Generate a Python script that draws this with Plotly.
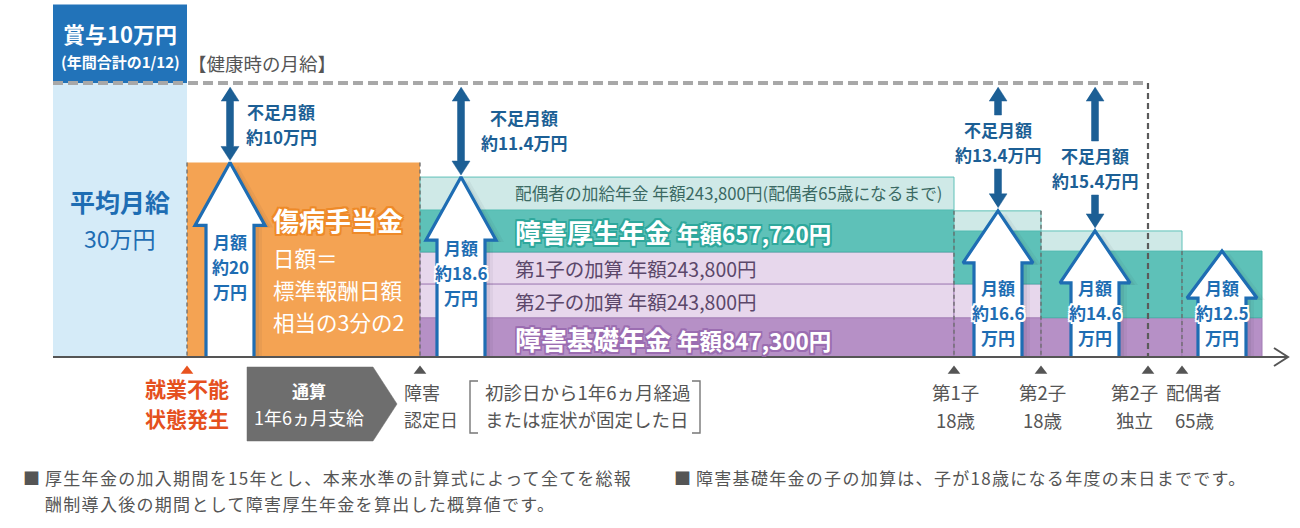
import plotly.graph_objects as go

# ---------------- data ----------------
# timeline events (schematic positions along the horizontal axis)
event_top = ["就業不能", "障害", "第1子", "第2子", "第2子", "配偶者"]
event_bottom = ["状態発生", "認定日", "18歳", "18歳", "独立", "65歳"]
event_pos = [187, 420, 954, 1041, 1148, 1182]
timeline_start = 53
timeline_end = 1262

# left blocks (万円, heights as drawn in the illustration)
avg_salary = 30.0
bonus_block = 8.6
sickness_block = 21.3

# pension stacks for the periods after 障害認定日 (万円, as drawn, bottom -> top)
period_edges = [420, 954, 1041, 1182, 1262]
basic_pension = [4.3, 4.3, 4.3, 4.3]
child2_add = [3.7, 3.7, 0.0, 0.0]
child1_add = [3.5, 0.0, 0.0, 0.0]
employee_pension = [4.6, 5.8, 7.3, 7.3]
spouse_add = [3.6, 2.2, 2.2, 0.0]

# labels
monthly_labels = ["20", "18.6", "16.6", "14.6", "12.5"]
shortfall_labels = ["10", "11.4", "13.4", "15.4"]
annual_basic = "847,300"
annual_employee = "657,720"
annual_child = "243,800"
annual_spouse = "243,800"

# ---------------- layout helpers ----------------
W, H = 1300, 528
BASE_PX = 357
TOP_PX = 83
K = (BASE_PX - TOP_PX) / avg_salary  # px per 万円
FONT = "Noto Sans CJK JP, Noto Sans, sans-serif"


def Y(py):
    return (BASE_PX - py) / K


def PY(v):
    return BASE_PX - v * K


fig = go.Figure()

# ---- left blocks ----
left_c = (timeline_start + event_pos[0]) / 2
left_w = event_pos[0] - timeline_start
fig.add_bar(x=[left_c], y=[avg_salary], base=[0], width=[left_w],
            marker=dict(color="#d5ebf8", line=dict(width=0)), hoverinfo="skip")
fig.add_bar(x=[left_c], y=[bonus_block], base=[avg_salary], width=[left_w],
            marker=dict(color="#2273b9", line=dict(width=0)), hoverinfo="skip")
fig.add_bar(x=[(event_pos[0] + event_pos[1]) / 2], y=[sickness_block], base=[0],
            width=[event_pos[1] - event_pos[0]],
            marker=dict(color="#f4a353", line=dict(width=0)), hoverinfo="skip")

# ---- pension stacks ----
centers = [(a + b) / 2 for a, b in zip(period_edges[:-1], period_edges[1:])]
widths = [b - a for a, b in zip(period_edges[:-1], period_edges[1:])]
layers = [
    (basic_pension, "#b690c6", "#a27cb5"),
    (child2_add, "#e7d7ec", "#a986ba"),
    (child1_add, "#e7d7ec", "#a986ba"),
    (employee_pension, "#5ec1b8", "#47b3a8"),
    (spouse_add, "#cfe9e7", "#5ec1b8"),
]
bottom = [0.0] * len(centers)
for vals, fill, edge in layers:
    xs, ys, bs, ws = [], [], [], []
    for i, v in enumerate(vals):
        if v > 0:
            xs.append(centers[i]); ys.append(v); bs.append(bottom[i]); ws.append(widths[i])
    fig.add_bar(x=xs, y=ys, base=bs, width=ws,
                marker=dict(color=fill, line=dict(color=edge, width=1)), hoverinfo="skip")
    bottom = [b + v for b, v in zip(bottom, vals)]
totals = bottom


# ---- dashed lines ----
def line(xs, ys, color, width, dash="solid"):
    fig.add_trace(go.Scatter(x=xs, y=ys, mode="lines", hoverinfo="skip",
                             line=dict(color=color, width=width, dash=dash)))


line([timeline_start, event_pos[4]], [avg_salary, avg_salary], "#a8a8a8", 4, "10px,5px")
line([event_pos[4], event_pos[4]], [avg_salary, 0], "#5a5a5a", 2.2, "6px,4px")
vtops = [sickness_block, sickness_block, totals[1], totals[1], totals[3]]
for xp, top in zip([event_pos[0], event_pos[1], event_pos[2], event_pos[3], event_pos[5]], vtops):
    line([xp, xp], [top, 0], "#6a6a6a", 1.3, "4px,3px")

# ---- white arrows (with a soft shadow) ----
arrow_x = [230, 461, 998, 1095, 1222]
head_len_px = [63, 63, 52, 52, 47]
tips = [sickness_block] + totals
for cx, tip, hl in zip(arrow_x, tips, head_len_px):
    sh, hh = 24, 35
    hb = tip - hl / K
    for off, alpha in [(8, 0.05), (5, 0.07)]:
        sx = [cx - sh + off, cx - sh + off, cx - hh + off, cx + off, cx + hh + off, cx + sh + off, cx + sh + off]
        sy = [0, hb - 2 / K, hb - 2 / K, tip - 3 / K, hb - 2 / K, hb - 2 / K, 0]
        fig.add_trace(go.Scatter(x=sx, y=sy, mode="lines", fill="toself",
                                 fillcolor=f"rgba(40,40,60,{alpha})", line=dict(width=0),
                                 hoverinfo="skip"))
    xs = [cx - sh, cx - sh, cx - hh, cx, cx + hh, cx + sh, cx + sh]
    ys = [0, hb, hb, tip, hb, hb, 0]
    fig.add_trace(go.Scatter(x=xs, y=ys, mode="lines", fill="toself", fillcolor="white",
                             line=dict(color="#1e6db3", width=3.2), hoverinfo="skip"))

# ---- shortfall arrows (dark blue) ----
DARK = "#1c5f95"


def poly(xs, pys, color):
    fig.add_trace(go.Scatter(x=xs, y=[Y(p) for p in pys], mode="lines", fill="toself",
                             fillcolor=color, line=dict(color=color, width=0.5), hoverinfo="skip"))


def up_arrow(x, t, b, hl=14, hh=9, sh=3.5):
    poly([x, x + hh, x + sh, x + sh, x - sh, x - sh, x - hh],
         [t, t + hl, t + hl, b, b, t + hl, t + hl], DARK)


def down_arrow(x, t, b, hl=14, hh=9, sh=3.5):
    poly([x, x + hh, x + sh, x + sh, x - sh, x - sh, x - hh],
         [b, b - hl, b - hl, t, t, b - hl, b - hl], DARK)


def double_arrow(x, t, b, hl=14, hh=9, sh=3.5):
    poly([x, x + hh, x + sh, x + sh, x + hh, x, x - hh, x - sh, x - sh, x - hh],
         [t, t + hl, t + hl, b - hl, b - hl, b, b - hl, b - hl, t + hl, t + hl], DARK)


top_tip = PY(avg_salary) + 4
double_arrow(arrow_x[0], top_tip, PY(tips[0]) - 2)
double_arrow(arrow_x[1], top_tip, PY(tips[1]) - 2)
up_arrow(arrow_x[2], top_tip, 115)
down_arrow(arrow_x[2], 169, PY(tips[2]) - 3)
up_arrow(arrow_x[3], top_tip, 141)
down_arrow(arrow_x[3], 195, PY(tips[3]) - 3)

# ---- axis ----
line([timeline_start, 1288], [0, 0], "#555555", 2)
line([1274, 1288, 1274], [Y(348), 0, Y(366)], "#555555", 2)

# event markers
fig.add_trace(go.Scatter(x=event_pos, y=[Y(371)] * len(event_pos), mode="markers",
                         marker=dict(symbol="triangle-up", size=11,
                                     color=["#e8531f"] + ["#555555"] * (len(event_pos) - 1)),
                         hoverinfo="skip"))

# gray pentagon (通算 1年6ヵ月支給)
poly([247, 373, 397, 373, 247, 247], [367, 367, 404, 441, 441, 367], "#6e6e6e")

# brackets
line([478, 470, 470, 478], [Y(381), Y(381), Y(433), Y(433)], "#777777", 1.4)
line([692, 700, 700, 692], [Y(381), Y(381), Y(433), Y(433)], "#777777", 1.4)


# ---------------- text ----------------
def text(x, py, s, size, color, bold=False, anchor="center", shadow="none"):
    fig.add_annotation(x=x, y=Y(py), xref="x", yref="y", text=s, showarrow=False,
                       xanchor=anchor, yanchor="middle",
                       font=dict(family=FONT, size=size, color=color,
                                 weight="bold" if bold else "normal", shadow=shadow))


def halo(c, r=1.6):
    return (f"{r}px {r}px 0 {c}, -{r}px {r}px 0 {c}, {r}px -{r}px 0 {c}, -{r}px -{r}px 0 {c}, "
            f"0 {r}px 0 {c}, 0 -{r}px 0 {c}, {r}px 0 0 {c}, -{r}px 0 0 {c}")


BLUE = "#1e6db3"
GRAY = "#555555"

text(left_c, 33, "賞与10万円", 22, "white", True)
text(left_c, 61, "(年間合計の1/12)", 15, "white", True)
text(262, 63, "【健康時の月給】", 18.5, GRAY)
text(left_c, 201, "平均月給", 25, BLUE, True)
text(left_c, 238, f"{int(avg_salary)}万円", 23, BLUE)

# sickness allowance
text(271, 219, "傷病手当金", 26, "white", True, "left", halo("#ee8a28", 1.8))
text(271, 257, "日額＝", 21.5, "white", False, "left")
text(271, 289, "標準報酬日額", 21.5, "white", False, "left")
text(271, 321, "相当の3分の2", 21.5, "white", False, "left")

# pension band texts
text(513, 193, f"配偶者の加給年金 年額{annual_spouse}円(配偶者65歳になるまで)", 16.7, "#3b6963", False, "left")
text(513, 231, f"障害厚生年金 <span style='font-size:22.5px'>年額{annual_employee}円</span>", 26, "white",
     True, "left", halo("#2ea89c", 1.6))
text(513, 268, f"第1子の加算 年額{annual_child}円", 19.5, "#5b476a", False, "left")
text(513, 301, f"第2子の加算 年額{annual_child}円", 19.5, "#5b476a", False, "left")
text(513, 338, f"障害基礎年金 <span style='font-size:22.5px'>年額{annual_basic}円</span>", 26, "white",
     True, "left", halo("#9b6db1", 1.6))

# monthly labels on white arrows (one text per line)
label_mid = [266, 272, 312, 312, 312]
for cx, lab, py in zip(arrow_x, monthly_labels, label_mid):
    for j, s in enumerate(["月額", f"約{lab}", "万円"]):
        text(cx, py + (j - 1) * 25, s, 17, BLUE, True, "center", halo("white", 1.6))

# shortfall labels
short_pos = [(281, 124), (524, 130), (998, 142), (1095, 168)]
for (cx, py), lab in zip(short_pos, shortfall_labels):
    text(cx, py - 12.5, "不足月額", 17, DARK, True)
    text(cx, py + 12.5, f"約{lab}万円", 17, DARK, True)

# event labels
text(event_pos[0], 388, event_top[0], 21, "#e5501e", True)
text(event_pos[0], 418, event_bottom[0], 21, "#e5501e", True)
text(309, 390, "通算", 17, "white", True)
text(309, 417, "1年6ヵ月支給", 18, "white", False)
text(402, 392, event_top[1], 18, GRAY, False, "left")
text(402, 419, event_bottom[1], 18, GRAY, False, "left")
text(483, 392, "初診日から1年6ヵ月経過", 18.5, GRAY, False, "left")
text(483, 419, "または症状が固定した日", 18.5, GRAY, False, "left")
label_cx = [None, None, 955, 1042, 1134, 1194]
for i in range(2, len(event_pos)):
    text(label_cx[i], 392, event_top[i], 18.5, GRAY)
    text(label_cx[i], 419.5, event_bottom[i], 18.5, GRAY)

# footnotes
LS = "<span style='letter-spacing:1.3px'>{}</span>"
text(21, 477.5, "■", 17, GRAY, False, "left")
text(43, 477.5, LS.format("厚生年金の加入期間を15年とし、本来水準の計算式によって全てを総報"), 17, GRAY, False, "left")
text(43, 503, LS.format("酬制導入後の期間として障害厚生年金を算出した概算値です。"), 17, GRAY, False, "left")
text(672, 477.5, "■", 17, GRAY, False, "left")
text(694, 477.5, LS.format("障害基礎年金の子の加算は、子が18歳になる年度の末日までです。"), 17, GRAY, False, "left")

fig.update_layout(
    width=W, height=H, margin=dict(l=0, r=0, t=0, b=0),
    paper_bgcolor="white", plot_bgcolor="white", showlegend=False,
    barmode="overlay",
    xaxis=dict(range=[0, W], visible=False, fixedrange=True),
    yaxis=dict(range=[Y(H), Y(0)], visible=False, fixedrange=True),
)

fig.write_html("out.html")
